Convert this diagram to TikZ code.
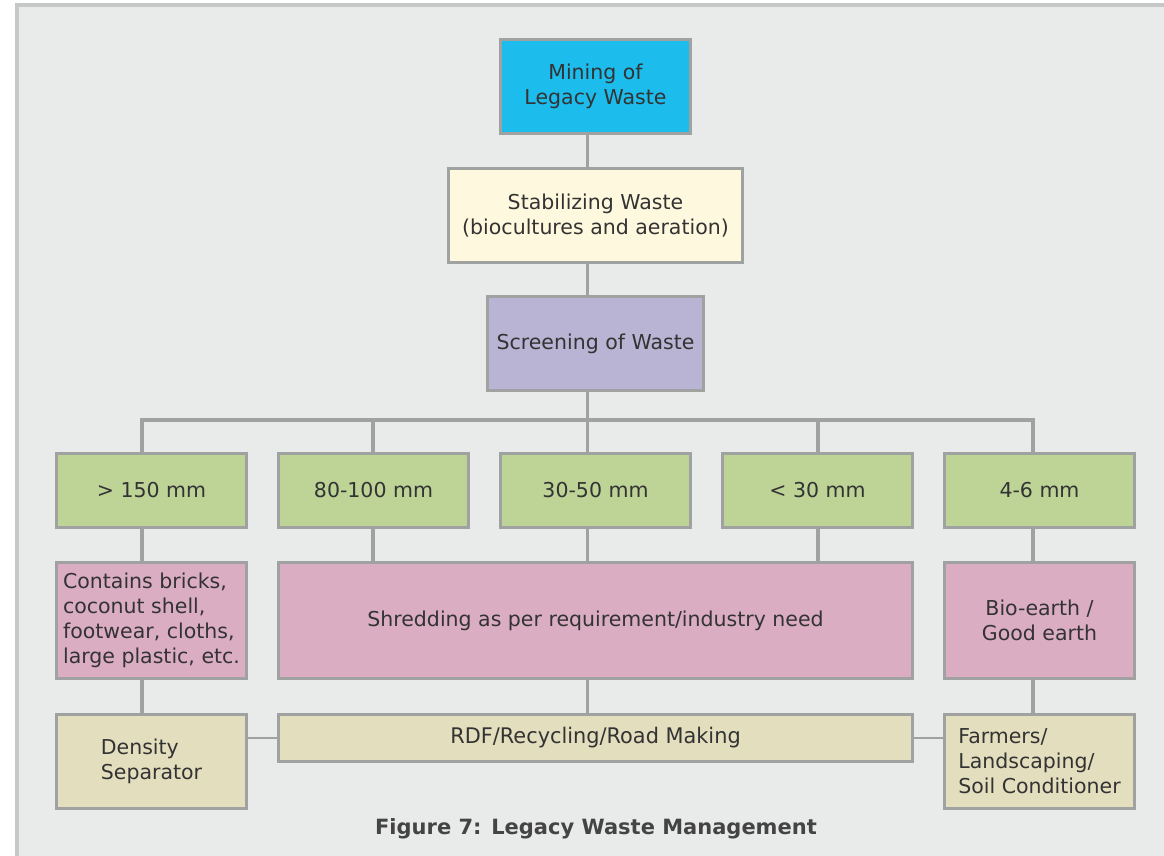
\documentclass[tikz,border=0pt]{standalone}
\usepackage{fontspec}
\setmainfont{DejaVu Sans}
\definecolor{pagebg}{HTML}{E9EBEA}
\definecolor{framegray}{HTML}{C6C7C7}
\definecolor{linegray}{HTML}{A0A1A1}
\definecolor{textgray}{HTML}{333333}
\definecolor{capgray}{HTML}{444444}
\definecolor{minefill}{HTML}{1CBCEC}
\definecolor{stabfill}{HTML}{FEF9DE}
\definecolor{screenfill}{HTML}{B9B4D3}
\definecolor{sizefill}{HTML}{BED497}
\definecolor{procfill}{HTML}{DBADC3}
\definecolor{usefill}{HTML}{E3DFBE}
\begin{document}
\begin{tikzpicture}[x=1pt,y=-1pt,
  box/.style={draw=linegray, line width=3pt, inner sep=0pt, outer sep=0pt,
    align=center, text=textgray, font=\fontsize{20.5}{25}\selectfont},
  link/.style={draw=linegray, line width=3.5pt}]
% page and frame
\useasboundingbox (0,0) rectangle (1164,856);
\fill[white] (0,0) rectangle (1164,856);
\fill[framegray] (15,3) rectangle (1164,856);
\fill[pagebg] (19,7) rectangle (1164,856);

% upper chain
\node[box, fill=minefill, minimum width=190pt, minimum height=94pt] (mine) at (595.5,86.5) {Mining of\\Legacy Waste};
\node[box, fill=stabfill, minimum width=294pt, minimum height=94pt] (stab) at (595.5,215.5) {Stabilizing Waste\\(biocultures and aeration)};
\node[box, fill=screenfill, minimum width=216pt, minimum height=94pt] (screen) at (595.5,343.5) {Screening of Waste};

% size fractions
\foreach \n/\x/\t in {g1/151.5/{> 150 mm}, g2/373.5/{80-100 mm}, g3/595.5/{30-50 mm}, g4/817.5/{< 30 mm}, g5/1039.5/{4-6 mm}}
  \node[box, fill=sizefill, minimum width=190pt, minimum height=74pt] (\n) at (\x,490.5) {\t};

% processing
\node[box, fill=procfill, minimum width=190pt, minimum height=116pt, align=left] (rej) at (151.5,620.5) {Contains bricks,\\coconut shell,\\footwear, cloths,\\large plastic, etc.};
\node[box, fill=procfill, minimum width=634pt, minimum height=116pt] (shred) at (595.5,620.5) {Shredding as per requirement/industry need};
\node[box, fill=procfill, minimum width=190pt, minimum height=116pt] (bio) at (1039.5,620.5) {Bio-earth /\\Good earth};

% end uses
\node[box, fill=usefill, minimum width=190pt, minimum height=94pt, align=left] (dens) at (151.5,761.5) {Density\\Separator};
\node[box, fill=usefill, minimum width=634pt, minimum height=47pt, font=\fontsize{21.5}{25}\selectfont] (rdf) at (595.5,738) {\scalebox{0.97}[1]{RDF/Recycling/Road Making}};
\node[box, fill=usefill, minimum width=190pt, minimum height=94pt, align=left] (farm) at (1039.5,761.5) {Farmers/\\Landscaping/\\Soil Conditioner};

% connector positions
\coordinate (ba) at (142,420);
\coordinate (bb) at (373,420);
\coordinate (bc) at (587.5,420);
\coordinate (bd) at (818,420);
\coordinate (be) at (1033,420);

\draw[link] (mine.south -| bc) -- (stab.north -| bc);
\draw[link] (stab.south -| bc) -- (screen.north -| bc);
\draw[link] (screen.south -| bc) -- (bc);
\draw[link] (g1.north -| ba) -- (ba) -- (be) -- (g5.north -| be);
\draw[link] (g2.north -| bb) -- (bb);
\draw[link] (g3.north -| bc) -- (bc);
\draw[link] (g4.north -| bd) -- (bd);

\draw[link] (g1.south -| ba) -- (rej.north -| ba);
\draw[link] (g2.south -| bb) -- (shred.north -| bb);
\draw[link] (g3.south -| bc) -- (shred.north -| bc);
\draw[link] (g4.south -| bd) -- (shred.north -| bd);
\draw[link] (g5.south -| be) -- (bio.north -| be);

\draw[link] (rej.south -| ba) -- (dens.north -| ba);
\draw[link] (shred.south -| bc) -- (rdf.north -| bc);
\draw[link] (bio.south -| be) -- (farm.north -| be);

\draw[link, line width=2.5pt] (dens.east |- rdf.west) -- (rdf.west);
\draw[link, line width=2.5pt] (rdf.east) -- (farm.west |- rdf.east);

% caption
\node[text=capgray, font=\bfseries\fontsize{21}{25}\selectfont] (cap) at (596,829) {Figure 7: Legacy Waste Management};
\end{tikzpicture}
\end{document}
